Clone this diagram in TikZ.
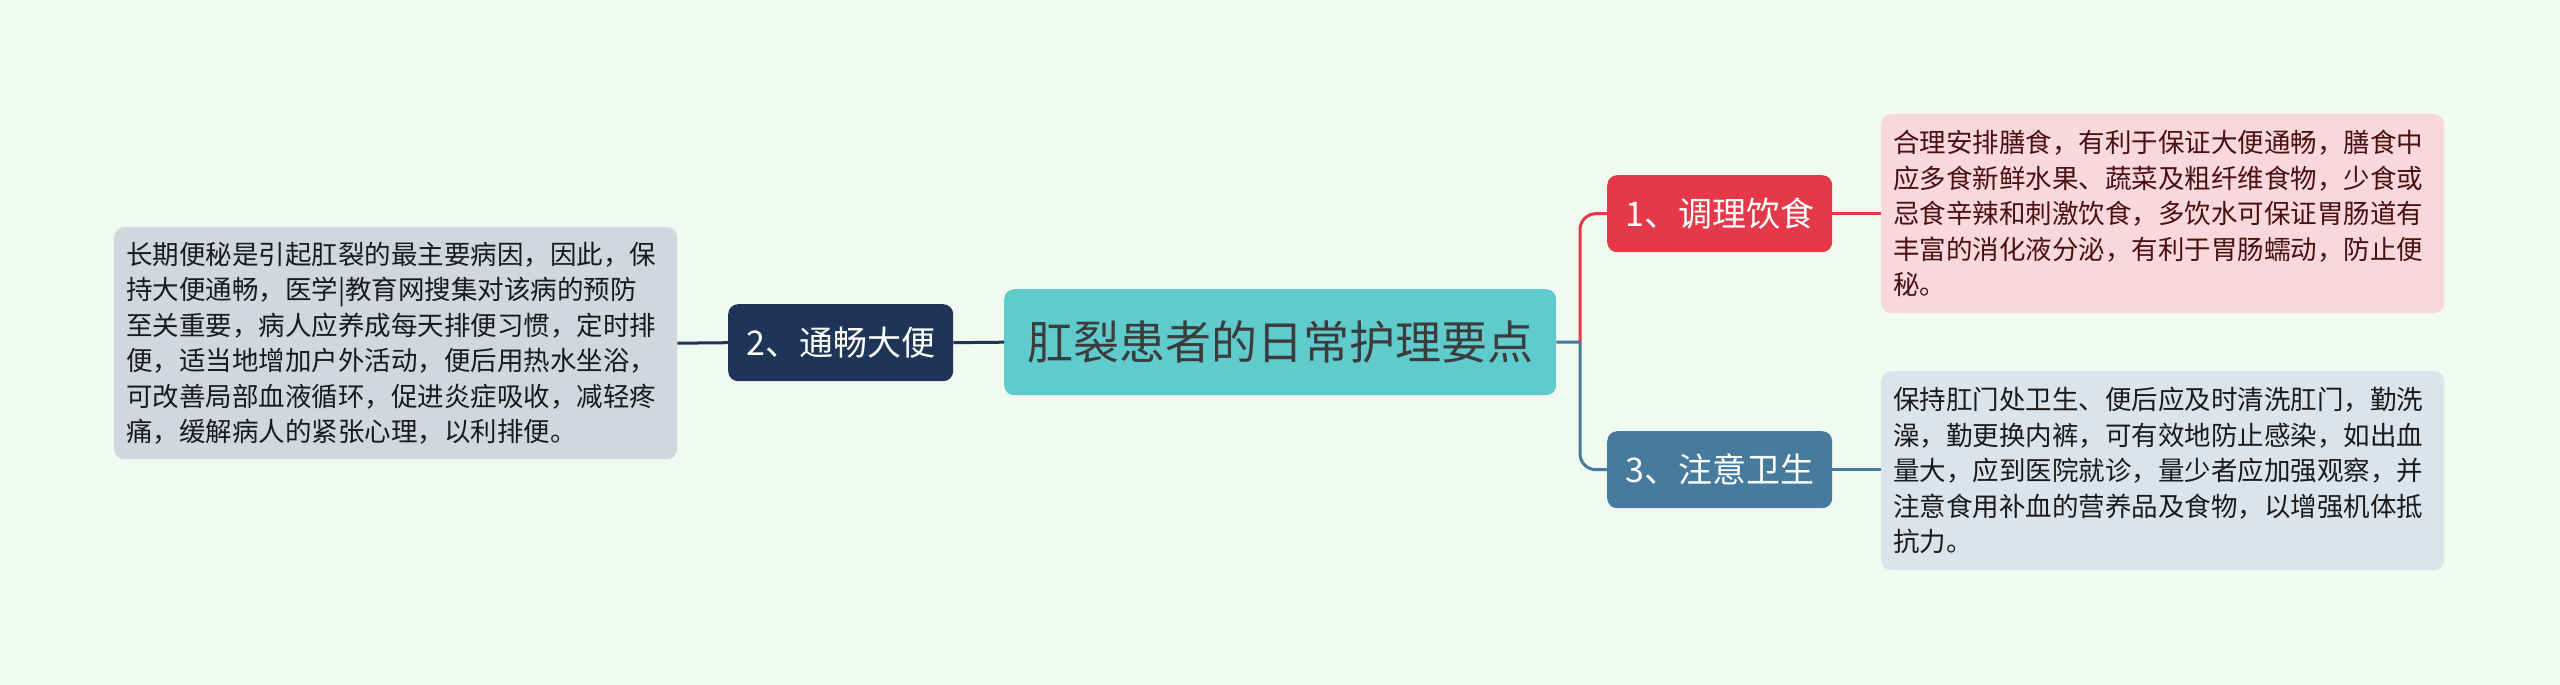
\documentclass[tikz,border=0pt]{standalone}
\usepackage{fontspec}
\setmainfont{Noto Sans CJK SC}
\definecolor{bg}{HTML}{F0FAF0}
\definecolor{teal}{HTML}{5FCBCC}
\definecolor{navy}{HTML}{1E3557}
\definecolor{redn}{HTML}{E5394A}
\definecolor{steel}{HTML}{467B9D}
\definecolor{pinkbox}{HTML}{F9D8DD}
\definecolor{bluebox}{HTML}{DCE4EB}
\definecolor{graybox}{HTML}{D2D7DE}
\definecolor{maroon}{HTML}{4A1010}
\definecolor{darktext}{HTML}{1A1A1A}
\begin{document}
\begin{tikzpicture}[x=1pt,y=-1pt,
  topic/.style={rounded corners=10pt,inner sep=0pt,anchor=north west},
  branch/.style={topic,text=white,minimum width=225pt,minimum height=77pt,font=\fontsize{34}{40}\selectfont},
  leafbox/.style={topic,minimum width=563pt,align=left,text width=539pt,inner xsep=12pt,font=\fontsize{26.5}{35.5}\selectfont},
  conn/.style={line width=3pt,rounded corners=16pt}]
\fill[bg] (0,0) rectangle (2560,685);
\useasboundingbox (0,0) rectangle (2560,685);
\node[topic,fill=teal,text=darktext!85,minimum width=552pt,minimum height=106pt,font=\fontsize{46}{54}\selectfont] (c) at (1004,289) {肛裂患者的日常护理要点};
\node[branch,fill=navy] (b2) at (728,304) {2、通畅大便};
\node[branch,fill=redn] (b1) at (1607,175) {1、调理饮食};
\node[branch,fill=steel] (b3) at (1607,431) {3、注意卫生};
\node[leafbox,fill=graybox,text=darktext,minimum height=232pt] (l2) at (114,227) {长期便秘是引起肛裂的最主要病因，因此，保\\持大便通畅，医学|教育网搜集对该病的预防\\至关重要，病人应养成每天排便习惯，定时排\\便，适当地增加户外活动，便后用热水坐浴，\\可改善局部血液循环，促进炎症吸收，减轻疼\\痛，缓解病人的紧张心理，以利排便。};
\node[leafbox,fill=pinkbox,text=maroon,minimum height=199pt] (l1) at (1881,114) {合理安排膳食，有利于保证大便通畅，膳食中\\应多食新鲜水果、蔬菜及粗纤维食物，少食或\\忌食辛辣和刺激饮食，多饮水可保证胃肠道有\\丰富的消化液分泌，有利于胃肠蠕动，防止便\\秘。};
\node[leafbox,fill=bluebox,text=darktext,minimum height=199pt] (l3) at (1881,371) {保持肛门处卫生、便后应及时清洗肛门，勤洗\\澡，勤更换内裤，可有效地防止感染，如出血\\量大，应到医院就诊，量少者应加强观察，并\\注意食用补血的营养品及食物，以增强机体抵\\抗力。};
\coordinate (j) at (1580,342);
\draw[conn,navy] (c.west) -- (b2.east);
\draw[conn,navy] (b2.west) -- (l2.east);
\draw[conn,steel] (c.east) -- (j);
\draw[conn,redn] (j) |- (b1.west);
\draw[conn,steel] (j) |- (b3.west);
\draw[conn,redn] (b1.east) -- (b1.east -| l1.west);
\draw[conn,steel] (b3.east) -- (b3.east -| l3.west);
\end{tikzpicture}
\end{document}
